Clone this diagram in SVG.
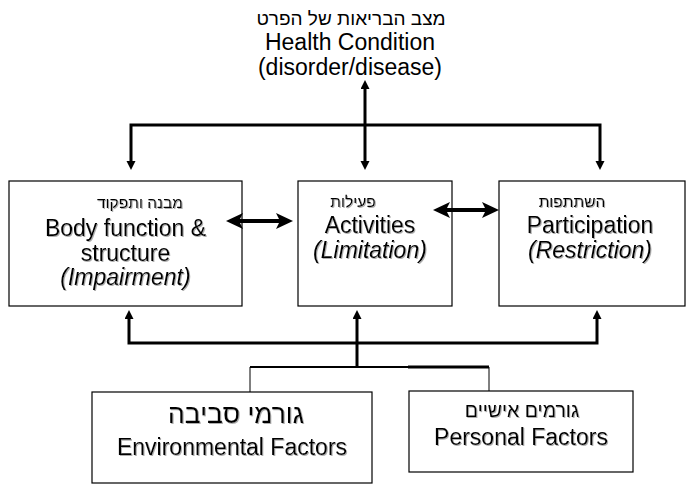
<svg xmlns="http://www.w3.org/2000/svg" width="693" height="488" viewBox="0 0 693 488">
<defs>
<style>
.box{fill:#fff;stroke:#000;stroke-width:1.2}
.t{font-family:"Liberation Sans",Arial,"DejaVu Sans",sans-serif;fill:#000;text-anchor:middle}
.en{font-size:23px}
.it{font-size:23px;font-style:italic}
.he{font-size:15.5px}
.conn{fill:none;stroke:#000;stroke-width:3}
.thin{fill:none;stroke:#000;stroke-width:1}
.dbl{fill:none;stroke:#000;stroke-width:4}
</style>
<marker id="tri" markerUnits="userSpaceOnUse" markerWidth="10" markerHeight="10" refX="3" refY="4.5" orient="auto-start-reverse">
<path d="M0,0 L9,4.5 L0,9 z" fill="#000"/>
</marker>
<marker id="big" markerUnits="userSpaceOnUse" markerWidth="18" markerHeight="18" refX="5" refY="8" orient="auto-start-reverse">
<path d="M0,0 L17,8 L0,16 L4,8 z" fill="#000"/>
</marker>
<filter id="sh" x="-5%" y="-20%" width="110%" height="140%">
<feDropShadow dx="1" dy="1" stdDeviation="0.4" flood-color="#9a9a9a" flood-opacity="0.8"/>
</filter>
</defs>

<g id="health">
<text class="t" x="351" y="25" style="font-size:19px">מצב הבריאות של הפרט</text>
<text class="t en" x="350" y="50">Health Condition</text>
<text class="t en" x="350" y="75">(disorder/disease)</text>
</g>

<g id="body">
<rect class="box" x="9" y="181" width="233" height="125"/>
<g filter="url(#sh)">
<text class="t he" x="140" y="208">מבנה ותפקוד</text>
<text class="t en" x="125.5" y="236">Body function &amp;</text>
<text class="t en" x="125.5" y="261">structure</text>
<text class="t it" x="125.5" y="285">(Impairment)</text>
</g>
</g>

<g id="activities">
<rect class="box" x="298" y="181" width="154" height="125"/>
<g filter="url(#sh)">
<text class="t he" x="353" y="207">פעילות</text>
<text class="t en" x="370" y="233">Activities</text>
<text class="t it" x="370" y="258">(Limitation)</text>
</g>
</g>

<g id="participation">
<rect class="box" x="499" y="181" width="186" height="125"/>
<g filter="url(#sh)">
<text class="t he" x="572" y="207">השתתפות</text>
<text class="t en" x="590" y="233">Participation</text>
<text class="t it" x="590" y="258">(Restriction)</text>
</g>
</g>

<g id="environmental">
<rect class="box" x="92" y="392" width="280" height="91"/>
<g filter="url(#sh)">
<text class="t" x="236" y="423" style="font-size:26.5px">גורמי סביבה</text>
<text class="t en" x="232" y="455">Environmental Factors</text>
</g>
</g>

<g id="personal">
<rect class="box" x="409" y="391" width="224" height="81"/>
<g filter="url(#sh)">
<text class="t" x="522" y="417" style="font-size:19.5px">גורמים אישיים</text>
<text class="t en" x="521" y="445">Personal Factors</text>
</g>
</g>

<g id="connectors">
<line class="conn" x1="365" y1="86" x2="365" y2="164" marker-start="url(#tri)" marker-end="url(#tri)"/>
<path class="conn" d="M131,164 V125 H600 V164" marker-start="url(#tri)" marker-end="url(#tri)"/>
<path class="conn" d="M129,316 V343 H597 V316" marker-start="url(#tri)" marker-end="url(#tri)"/>
<line class="conn" x1="357" y1="367" x2="357" y2="316" marker-end="url(#tri)"/>
<line x1="250" y1="367" x2="408" y2="367" stroke="#000" stroke-width="2"/>
<line x1="408" y1="367" x2="489" y2="367" stroke="#000" stroke-width="3"/>
<line class="thin" x1="250" y1="367" x2="250" y2="392"/>
<line class="thin" x1="489" y1="367" x2="489" y2="391"/>
<line class="dbl" x1="238" y1="221" x2="281" y2="221" marker-start="url(#big)" marker-end="url(#big)"/>
<line class="dbl" x1="445" y1="210" x2="487" y2="210" marker-start="url(#big)" marker-end="url(#big)"/>
</g>
</svg>
